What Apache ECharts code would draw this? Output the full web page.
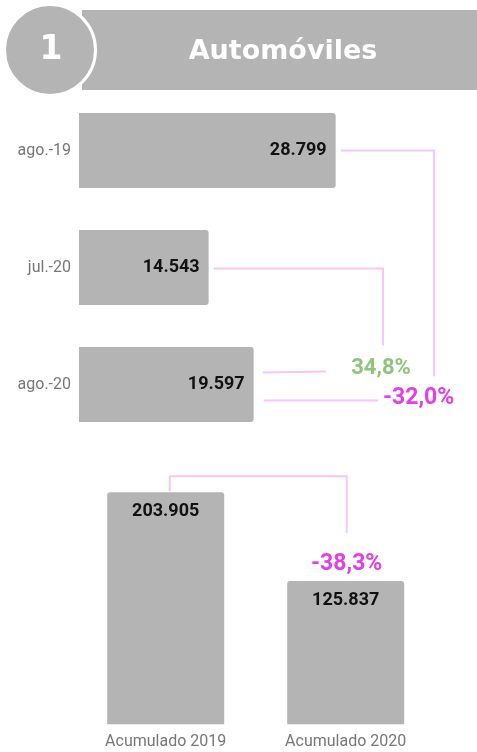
<!DOCTYPE html>
<html><head><meta charset="utf-8">
<script src="https://cdn.jsdelivr.net/npm/echarts@6/dist/echarts.min.js"></script>
<style>html,body{margin:0;padding:0;background:#fff}#c{width:477px;height:752px}</style>
</head><body><div id="c"></div>
<script>
const monthCats = ['ago.-19', 'jul.-20', 'ago.-20'];
const monthValues = [28799, 14543, 19597];
const accCats = ['Acumulado 2019', 'Acumulado 2020'];
const accValues = [203905, 125837];
const pctJulAgo = '34,8%';
const pctAgoAgo = '-32,0%';
const pctAcc = '-38,3%';
const headerNumber = '1';
const headerTitle = 'Automóviles';

const GRAY = '#b4b4b4', PINK = '#f5c8f5', GREEN = '#8dc57b', MAG = '#e33fe6';
const fmt = v => v.toLocaleString('de-DE');

const chart = echarts.init(document.getElementById('c'), null, {renderer: 'canvas'});
chart.setOption({
  animation: false,
  textStyle: {fontFamily: 'Roboto'},
  grid: [
    {left: 79, width: 356.5, top: 92, height: 351},
    {left: 75.7, width: 360, top: 439.8, height: 284.5}
  ],
  xAxis: [
    {gridIndex: 0, type: 'value', min: 0, max: 40000, show: false},
    {gridIndex: 1, type: 'category', data: accCats,
     axisLine: {show: false}, axisTick: {show: false},
     axisLabel: {color: '#777', fontSize: 16, margin: 10, fontFamily: 'Roboto'}}
  ],
  yAxis: [
    {gridIndex: 0, type: 'category', data: monthCats, inverse: true,
     axisLine: {show: false}, axisTick: {show: false},
     axisLabel: {color: '#777', fontSize: 16, margin: 8, fontFamily: 'Roboto'}},
    {gridIndex: 1, type: 'value', min: 0, max: 250000, show: false}
  ],
  series: [
    {type: 'bar', xAxisIndex: 0, yAxisIndex: 0, data: monthValues, barWidth: 75,
     itemStyle: {color: GRAY, borderRadius: [0, 3, 3, 0]},
     label: {show: true, position: 'insideRight', distance: 9, formatter: p => fmt(p.value),
       color: '#111', fontSize: 18, fontWeight: 'bold', fontFamily: 'Roboto'}},
    {type: 'bar', xAxisIndex: 1, yAxisIndex: 1, data: accValues, barWidth: 117,
     itemStyle: {color: GRAY, borderRadius: [3, 3, 0, 0]},
     label: {show: true, position: 'insideTop', distance: 10, formatter: p => fmt(p.value),
       color: '#111', fontSize: 18, fontWeight: 'bold', fontFamily: 'Roboto'}}
  ]
});

const endPt = i => chart.convertToPixel({xAxisIndex: 0, yAxisIndex: 0}, [monthValues[i], monthCats[i]]);
const accTop = i => chart.convertToPixel({xAxisIndex: 1, yAxisIndex: 1}, [accCats[i], accValues[i]]);
const gridRight = chart.convertToPixel({xAxisIndex: 0}, 40000);
const p0 = endPt(0), p1 = endPt(1), p2 = endPt(2);
const a0 = accTop(0), a1 = accTop(1);
const X1 = gridRight - 1.5, X2 = X1 - 51;
const line = pts => ({type: 'polyline', shape: {points: pts}, style: {stroke: PINK, lineWidth: 2, fill: null}, silent: true});
const txt = (x, y, t, color, size, align, family) => ({type: 'text', x, y, style: {text: t, fill: color,
  font: 'bold ' + size + 'px ' + (family || 'Roboto'), textAlign: align || 'center', textVerticalAlign: 'middle'}, silent: true});

chart.setOption({
  graphic: [
    {type: 'rect', shape: {x: 82, y: 10, width: 400, height: 80}, style: {fill: GRAY}},
    {type: 'circle', shape: {cx: 50, cy: 50, r: 45.5}, style: {fill: GRAY, stroke: '#fff', lineWidth: 3}},
    txt(51, 50, headerNumber, '#fff', 33, 'center', '"DejaVu Sans"'),
    txt(283, 52, headerTitle, '#fff', 27, 'center', '"DejaVu Sans"'),
    line([[p0[0] + 5, p0[1]], [X1, p0[1]], [X1, p2[1] - 8]]),
    line([[p1[0] + 5, p1[1] + 1], [X2, p1[1] + 1], [X2, p2[1] - 39]]),
    line([[p2[0] + 9, p2[1] - 12], [X2 - 57, p2[1] - 13]]),
    line([[p2[0] + 10, p2[1] + 16], [X2 - 5, p2[1] + 16]]),
    txt(X2 - 2, p2[1] - 16, pctJulAgo, GREEN, 22),
    txt(X2, p2[1] + 14, pctAgoAgo, MAG, 23, 'left'),
    line([[a0[0] + 4, a0[1] - 1], [a0[0] + 4, a0[1] - 16], [a1[0] + 1, a0[1] - 16], [a1[0] + 1, a1[1] - 48]]),
    txt(a1[0] + 1, a1[1] - 17, pctAcc, MAG, 23)
  ]
});
</script></body></html>
